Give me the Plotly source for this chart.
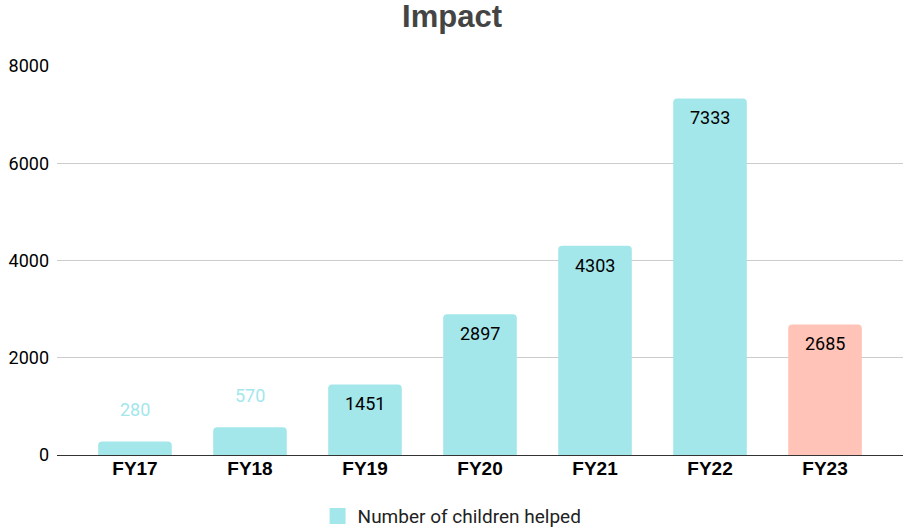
import plotly.graph_objects as go

categories = ["FY17", "FY18", "FY19", "FY20", "FY21", "FY22", "FY23"]
children_helped = [280, 570, 1451, 2897, 4303, 7333, 2685]
y_ticks = [0, 2000, 4000, 6000, 8000]
series_name = "Number of children helped"

TEAL = "#a3e7eb"
SALMON = "#ffc3b7"
bar_colors = [TEAL] * 6 + [SALMON]

fig = go.Figure()
fig.add_trace(go.Bar(
    x=categories, y=children_helped,
    name=series_name, showlegend=False,
    marker=dict(color=bar_colors, cornerradius=4, line=dict(width=0)),
    width=0.64,
    hoverinfo="x+y",
))
# legend entry with a larger square swatch
fig.add_trace(go.Scatter(
    x=[None], y=[None], mode="markers", name=series_name,
    marker=dict(symbol="square", size=20, color=TEAL),
    showlegend=True,
))

# data labels: inside for tall bars, above (in bar colour) for short ones
for c, v in zip(categories, children_helped):
    if v < 1000:
        fig.add_annotation(x=c, y=v, text=str(v), showarrow=False,
                           yanchor="bottom", yshift=19,
                           font=dict(family="Roboto", size=18, color=TEAL))
    else:
        fig.add_annotation(x=c, y=v, text=str(v), showarrow=False,
                           yanchor="top", yshift=-7,
                           font=dict(family="Roboto", size=18, color="#000000"))

fig.update_layout(
    width=904, height=530,
    margin=dict(l=57, r=1, t=66, b=75, autoexpand=False),
    paper_bgcolor="white", plot_bgcolor="white",
    title=dict(text="<b>Impact</b>", x=0.5, xanchor="center", y=0.97, yanchor="middle",
               font=dict(family="Liberation Sans, Arial", size=31, color="#444444")),
    showlegend=True,
    legend=dict(orientation="h", x=0.467, xanchor="center", y=-0.157, yanchor="middle",
                font=dict(family="Roboto", size=19, color="#222222")),
)
fig.update_xaxes(
    range=[-0.678, 6.678], automargin=False,
    tickfont=dict(family="Liberation Sans, Arial", size=19, color="#000000", weight="bold"),
    showgrid=False, showline=False, ticks="",
)
fig.update_yaxes(
    range=[0, 8000], tickvals=y_ticks, ticktext=[str(t) for t in y_ticks],
    automargin=False,
    tickfont=dict(family="Roboto", size=18, color="#000000"),
    showgrid=True, gridcolor="#cccccc", gridwidth=1,
    zeroline=True, zerolinecolor="#333333", zerolinewidth=1.3,
    showline=False, ticks="", ticklabelstandoff=7,
)

fig.write_html("out.html", config={"displayModeBar": False},
               post_script="document.body.style.margin='0';")
